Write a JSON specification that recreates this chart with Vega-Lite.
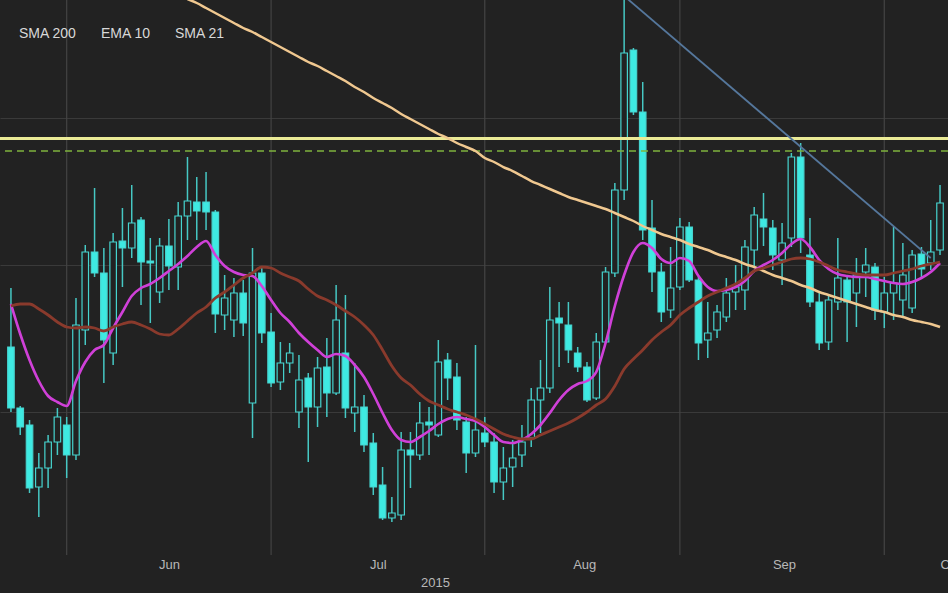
{
"$schema": "https://vega.github.io/schema/vega-lite/v6.json",
"width": 948, "height": 555,
"autosize": {"type": "none"},
"padding": {"left": 0, "top": 0, "right": 0, "bottom": 38},
"background": "#222222",
"config": {"view": {"stroke": null}, "font": "Liberation Sans"},
"datasets": {
"months": [{"i": 6, "m": "Jun"}, {"i": 28, "m": "Jul"}, {"i": 51, "m": "Aug"}, {"i": 72, "m": "Sep"}, {"i": 94, "m": "Oct"}],
"levels": [{"v": 416.5, "kind": "resistance"}, {"v": 404, "kind": "support"}],
"trend": [{"i": 66, "v": 559}, {"i": 99, "v": 297}],
"candles": [
{"i":0,"o":208,"h":267,"l":143,"c":147,"EMA 10":251,"SMA 21":249},
{"i":1,"o":147,"h":149,"l":120,"c":128,"EMA 10":221,"SMA 21":251},
{"i":2,"o":130,"h":135,"l":62,"c":67,"EMA 10":195,"SMA 21":251},
{"i":3,"o":68,"h":102,"l":38,"c":87,"EMA 10":174,"SMA 21":246},
{"i":4,"o":87,"h":120,"l":67,"c":113,"EMA 10":159,"SMA 21":240},
{"i":5,"o":113,"h":147,"l":100,"c":138,"EMA 10":153,"SMA 21":233},
{"i":6,"o":130,"h":138,"l":77,"c":100,"EMA 10":149,"SMA 21":228},
{"i":7,"o":100,"h":257,"l":95,"c":230,"EMA 10":174,"SMA 21":227},
{"i":8,"o":225,"h":310,"l":210,"c":303,"EMA 10":193,"SMA 21":228},
{"i":9,"o":303,"h":367,"l":278,"c":282,"EMA 10":205,"SMA 21":227},
{"i":10,"o":282,"h":307,"l":172,"c":215,"EMA 10":210,"SMA 21":224},
{"i":11,"o":202,"h":322,"l":190,"c":313,"EMA 10":227,"SMA 21":228},
{"i":12,"o":314,"h":347,"l":268,"c":307,"EMA 10":243,"SMA 21":231},
{"i":13,"o":307,"h":370,"l":297,"c":332,"EMA 10":259,"SMA 21":233},
{"i":14,"o":335,"h":338,"l":250,"c":293,"EMA 10":267,"SMA 21":230},
{"i":15,"o":294,"h":317,"l":232,"c":292,"EMA 10":271,"SMA 21":226},
{"i":16,"o":263,"h":317,"l":252,"c":309,"EMA 10":277,"SMA 21":221},
{"i":17,"o":309,"h":336,"l":265,"c":289,"EMA 10":284,"SMA 21":220},
{"i":18,"o":288,"h":353,"l":265,"c":339,"EMA 10":291,"SMA 21":226},
{"i":19,"o":339,"h":398,"l":315,"c":354,"EMA 10":299,"SMA 21":234,"SMA 200":556},
{"i":20,"o":353,"h":378,"l":315,"c":344,"EMA 10":308,"SMA 21":242,"SMA 200":552},
{"i":21,"o":353,"h":383,"l":325,"c":343,"EMA 10":314,"SMA 21":248,"SMA 200":547},
{"i":22,"o":343,"h":345,"l":222,"c":241,"EMA 10":300,"SMA 21":257,"SMA 200":542},
{"i":23,"o":240,"h":280,"l":225,"c":257,"EMA 10":289,"SMA 21":263,"SMA 200":537},
{"i":24,"o":235,"h":277,"l":218,"c":262,"EMA 10":283,"SMA 21":270,"SMA 200":532},
{"i":25,"o":262,"h":275,"l":219,"c":232,"EMA 10":280,"SMA 21":277,"SMA 200":527},
{"i":26,"o":152,"h":307,"l":117,"c":282,"EMA 10":279,"SMA 21":282,"SMA 200":523},
{"i":27,"o":282,"h":288,"l":212,"c":222,"EMA 10":269,"SMA 21":288,"SMA 200":518},
{"i":28,"o":223,"h":242,"l":168,"c":172,"EMA 10":255,"SMA 21":287,"SMA 200":513},
{"i":29,"o":173,"h":213,"l":165,"c":192,"EMA 10":242,"SMA 21":282,"SMA 200":508},
{"i":30,"o":192,"h":212,"l":182,"c":202,"EMA 10":233,"SMA 21":278,"SMA 200":503},
{"i":31,"o":143,"h":200,"l":127,"c":175,"EMA 10":222,"SMA 21":274,"SMA 200":498},
{"i":32,"o":177,"h":182,"l":93,"c":148,"EMA 10":213,"SMA 21":266,"SMA 200":493},
{"i":33,"o":148,"h":198,"l":128,"c":187,"EMA 10":205,"SMA 21":259,"SMA 200":489},
{"i":34,"o":188,"h":217,"l":138,"c":162,"EMA 10":198,"SMA 21":255,"SMA 200":484},
{"i":35,"o":162,"h":270,"l":160,"c":235,"EMA 10":201,"SMA 21":250,"SMA 200":479},
{"i":36,"o":202,"h":260,"l":137,"c":147,"EMA 10":199,"SMA 21":244,"SMA 200":474},
{"i":37,"o":142,"h":192,"l":123,"c":148,"EMA 10":190,"SMA 21":238,"SMA 200":468},
{"i":38,"o":148,"h":160,"l":103,"c":110,"EMA 10":178,"SMA 21":230,"SMA 200":463},
{"i":39,"o":112,"h":122,"l":60,"c":68,"EMA 10":161,"SMA 21":220,"SMA 200":457},
{"i":40,"o":70,"h":88,"l":35,"c":37,"EMA 10":142,"SMA 21":205,"SMA 200":452},
{"i":41,"o":37,"h":58,"l":33,"c":42,"EMA 10":125,"SMA 21":189,"SMA 200":447},
{"i":42,"o":40,"h":123,"l":35,"c":105,"EMA 10":115,"SMA 21":177,"SMA 200":441},
{"i":43,"o":105,"h":123,"l":67,"c":100,"EMA 10":113,"SMA 21":170,"SMA 200":436},
{"i":44,"o":100,"h":153,"l":95,"c":132,"EMA 10":118,"SMA 21":161,"SMA 200":431},
{"i":45,"o":133,"h":148,"l":100,"c":130,"EMA 10":124,"SMA 21":154,"SMA 200":426},
{"i":46,"o":120,"h":215,"l":118,"c":193,"EMA 10":131,"SMA 21":150,"SMA 200":421},
{"i":47,"o":195,"h":202,"l":155,"c":177,"EMA 10":136,"SMA 21":146,"SMA 200":417},
{"i":48,"o":178,"h":192,"l":125,"c":135,"EMA 10":138,"SMA 21":143,"SMA 200":412},
{"i":49,"o":133,"h":138,"l":82,"c":102,"EMA 10":136,"SMA 21":140,"SMA 200":408},
{"i":50,"o":102,"h":210,"l":98,"c":125,"EMA 10":134,"SMA 21":136,"SMA 200":404},
{"i":51,"o":122,"h":138,"l":108,"c":113,"EMA 10":128,"SMA 21":131,"SMA 200":397},
{"i":52,"o":113,"h":122,"l":62,"c":73,"EMA 10":120,"SMA 21":126,"SMA 200":393},
{"i":53,"o":73,"h":108,"l":55,"c":87,"EMA 10":113,"SMA 21":121,"SMA 200":388},
{"i":54,"o":88,"h":115,"l":68,"c":97,"EMA 10":112,"SMA 21":118,"SMA 200":384},
{"i":55,"o":100,"h":130,"l":88,"c":113,"EMA 10":115,"SMA 21":116,"SMA 200":379},
{"i":56,"o":117,"h":167,"l":108,"c":155,"EMA 10":121,"SMA 21":116,"SMA 200":374},
{"i":57,"o":155,"h":195,"l":122,"c":167,"EMA 10":130,"SMA 21":120,"SMA 200":370},
{"i":58,"o":167,"h":268,"l":162,"c":235,"EMA 10":142,"SMA 21":124,"SMA 200":366},
{"i":59,"o":237,"h":253,"l":188,"c":232,"EMA 10":155,"SMA 21":128,"SMA 200":362},
{"i":60,"o":230,"h":253,"l":192,"c":205,"EMA 10":165,"SMA 21":132,"SMA 200":358},
{"i":61,"o":202,"h":208,"l":183,"c":188,"EMA 10":171,"SMA 21":137,"SMA 200":355},
{"i":62,"o":188,"h":193,"l":153,"c":155,"EMA 10":174,"SMA 21":143,"SMA 200":352},
{"i":63,"o":157,"h":222,"l":155,"c":213,"EMA 10":183,"SMA 21":150,"SMA 200":349},
{"i":64,"o":213,"h":288,"l":212,"c":283,"EMA 10":212,"SMA 21":156,"SMA 200":346},
{"i":65,"o":282,"h":372,"l":278,"c":365,"EMA 10":249,"SMA 21":169,"SMA 200":342},
{"i":66,"o":365,"h":560,"l":355,"c":502,"EMA 10":280,"SMA 21":186,"SMA 200":338},
{"i":67,"o":505,"h":507,"l":440,"c":443,"EMA 10":303,"SMA 21":196,"SMA 200":334},
{"i":68,"o":443,"h":473,"l":315,"c":325,"EMA 10":312,"SMA 21":205,"SMA 200":329},
{"i":69,"o":327,"h":355,"l":263,"c":283,"EMA 10":307,"SMA 21":215,"SMA 200":325},
{"i":70,"o":283,"h":292,"l":233,"c":243,"EMA 10":296,"SMA 21":223,"SMA 200":321},
{"i":71,"o":245,"h":308,"l":237,"c":267,"EMA 10":292,"SMA 21":230,"SMA 200":318},
{"i":72,"o":268,"h":337,"l":265,"c":328,"EMA 10":297,"SMA 21":240,"SMA 200":315},
{"i":73,"o":328,"h":333,"l":273,"c":275,"EMA 10":294,"SMA 21":247,"SMA 200":311},
{"i":74,"o":275,"h":278,"l":195,"c":212,"EMA 10":279,"SMA 21":253,"SMA 200":308},
{"i":75,"o":215,"h":253,"l":197,"c":222,"EMA 10":268,"SMA 21":259,"SMA 200":305},
{"i":76,"o":225,"h":250,"l":217,"c":243,"EMA 10":264,"SMA 21":263,"SMA 200":301},
{"i":77,"o":238,"h":277,"l":233,"c":262,"EMA 10":265,"SMA 21":267,"SMA 200":298},
{"i":78,"o":263,"h":290,"l":245,"c":268,"EMA 10":268,"SMA 21":271,"SMA 200":295},
{"i":79,"o":265,"h":315,"l":245,"c":308,"EMA 10":274,"SMA 21":277,"SMA 200":291},
{"i":80,"o":305,"h":348,"l":288,"c":340,"EMA 10":284,"SMA 21":284,"SMA 200":288},
{"i":81,"o":336,"h":362,"l":309,"c":328,"EMA 10":290,"SMA 21":287,"SMA 200":284},
{"i":82,"o":327,"h":335,"l":285,"c":300,"EMA 10":295,"SMA 21":290,"SMA 200":280},
{"i":83,"o":295,"h":332,"l":270,"c":312,"EMA 10":302,"SMA 21":293,"SMA 200":277},
{"i":84,"o":317,"h":402,"l":308,"c":398,"EMA 10":311,"SMA 21":296,"SMA 200":274},
{"i":85,"o":398,"h":412,"l":302,"c":317,"EMA 10":316,"SMA 21":297,"SMA 200":270},
{"i":86,"o":300,"h":337,"l":248,"c":253,"EMA 10":308,"SMA 21":296,"SMA 200":267},
{"i":87,"o":253,"h":262,"l":205,"c":212,"EMA 10":295,"SMA 21":293,"SMA 200":263},
{"i":88,"o":213,"h":260,"l":205,"c":255,"EMA 10":286,"SMA 21":289,"SMA 200":260},
{"i":89,"o":253,"h":317,"l":245,"c":277,"EMA 10":281,"SMA 21":285,"SMA 200":257},
{"i":90,"o":275,"h":278,"l":213,"c":253,"EMA 10":279,"SMA 21":283,"SMA 200":254},
{"i":91,"o":262,"h":297,"l":228,"c":280,"EMA 10":278,"SMA 21":281,"SMA 200":251},
{"i":92,"o":283,"h":307,"l":258,"c":290,"EMA 10":278,"SMA 21":280,"SMA 200":248},
{"i":93,"o":288,"h":292,"l":235,"c":245,"EMA 10":276,"SMA 21":280,"SMA 200":245},
{"i":94,"o":243,"h":278,"l":227,"c":262,"EMA 10":274,"SMA 21":280,"SMA 200":243},
{"i":95,"o":262,"h":328,"l":235,"c":272,"EMA 10":272,"SMA 21":282,"SMA 200":240},
{"i":96,"o":255,"h":312,"l":238,"c":280,"EMA 10":271,"SMA 21":284,"SMA 200":238},
{"i":97,"o":247,"h":305,"l":242,"c":300,"EMA 10":273,"SMA 21":286,"SMA 200":235},
{"i":98,"o":301,"h":308,"l":277,"c":286,"EMA 10":277,"SMA 21":289,"SMA 200":233},
{"i":99,"o":292,"h":335,"l":285,"c":303,"EMA 10":283,"SMA 21":291,"SMA 200":231},
{"i":100,"o":305,"h":370,"l":300,"c":352,"EMA 10":292,"SMA 21":293,"SMA 200":228}
]
},
"layer": [
{
"data": {"name": "months"},
"mark": {"type": "rule", "color": "#444444", "strokeWidth": 1.2},
"encoding": {
"x": {"field": "i", "type": "quantitative",
"scale": {"domain": [-0.64, 100.32], "nice": false, "zero": false},
"axis": {"values": [17, 39.5, 61.7, 83.2, 100], "grid": false, "ticks": false, "domain": false,
"labelExpr": "datum.value < 28 ? 'Jun' : datum.value < 51 ? 'Jul' : datum.value < 72 ? 'Aug' : datum.value < 94 ? 'Sep' : 'Oct'",
"labelAlign": {"condition": {"test": "datum.value > 99", "value": "left"}, "value": "center"},
"labelColor": "#b8b8b8", "labelFontSize": 13, "labelPadding": 3, "labelOverlap": false, "labelFlush": false, "labelBound": false,
"title": "2015", "titleColor": "#b8b8b8", "titleFontSize": 13, "titleFontWeight": "normal", "titleX": 435, "titleY": 27, "titleBaseline": "middle", "titleAlign": "center"}}
}
},
{
"data": {"name": "candles"},
"mark": {"type": "rule", "color": "#46c8c4", "strokeWidth": 1.5},
"encoding": {
"x": {"field": "i", "type": "quantitative"},
"y": {"field": "l", "type": "quantitative", "scale": {"domain": [0, 555], "nice": false, "zero": false},
"axis": {"values": [143, 290, 437], "grid": true, "gridColor": "#3a3a3a", "gridWidth": 1.2, "labels": false, "ticks": false, "domain": false, "title": null}},
"y2": {"field": "h"}
}
},
{
"data": {"name": "candles"},
"mark": {"type": "bar", "size": 6.5, "stroke": "#46d4cf", "strokeWidth": 1.2},
"encoding": {
"x": {"field": "i", "type": "quantitative"},
"y": {"field": "o", "type": "quantitative"},
"y2": {"field": "c"},
"fill": {"condition": {"test": "datum.c < datum.o", "value": "#3eeae2"}, "value": "#222222"}
}
},
{
"data": {"name": "levels"},
"transform": [{"filter": "datum.kind == 'resistance'"}],
"mark": {"type": "rule", "color": "#eaea96", "strokeWidth": 3},
"encoding": {"y": {"field": "v", "type": "quantitative"}}
},
{
"data": {"name": "levels"},
"transform": [{"filter": "datum.kind == 'support'"}],
"mark": {"type": "rule", "color": "#7fb33e", "strokeWidth": 1.5, "strokeDash": [7, 5]},
"encoding": {"y": {"field": "v", "type": "quantitative"}}
},
{
"data": {"name": "candles"},
"transform": [{"fold": ["SMA 200", "EMA 10", "SMA 21"], "as": ["series", "val"]}],
"mark": {"type": "line", "clip": true, "interpolate": "monotone"},
"encoding": {
"x": {"field": "i", "type": "quantitative"},
"y": {"field": "val", "type": "quantitative"},
"color": {"field": "series", "type": "nominal",
"scale": {"domain": ["SMA 200", "EMA 10", "SMA 21"], "range": ["#f0c890", "#d040d8", "#8a3a2c"]},
"legend": {"orient": "none", "legendX": 5, "legendY": 27, "direction": "horizontal", "title": null,
"symbolOpacity": 0, "symbolSize": 0, "labelOffset": 0, "columnPadding": 10,
"labelColor": "#d8d8d8", "labelFontSize": 14, "labelFont": "Liberation Sans"}},
"strokeWidth": {"field": "series", "type": "nominal",
"scale": {"domain": ["SMA 200", "EMA 10", "SMA 21"], "range": [2.5, 2.8, 2]}, "legend": null}
}
},
{
"data": {"name": "trend"},
"mark": {"type": "line", "clip": true, "color": "#55779c", "strokeWidth": 1.8},
"encoding": {
"x": {"field": "i", "type": "quantitative"},
"y": {"field": "v", "type": "quantitative"}
}
}
]
}
